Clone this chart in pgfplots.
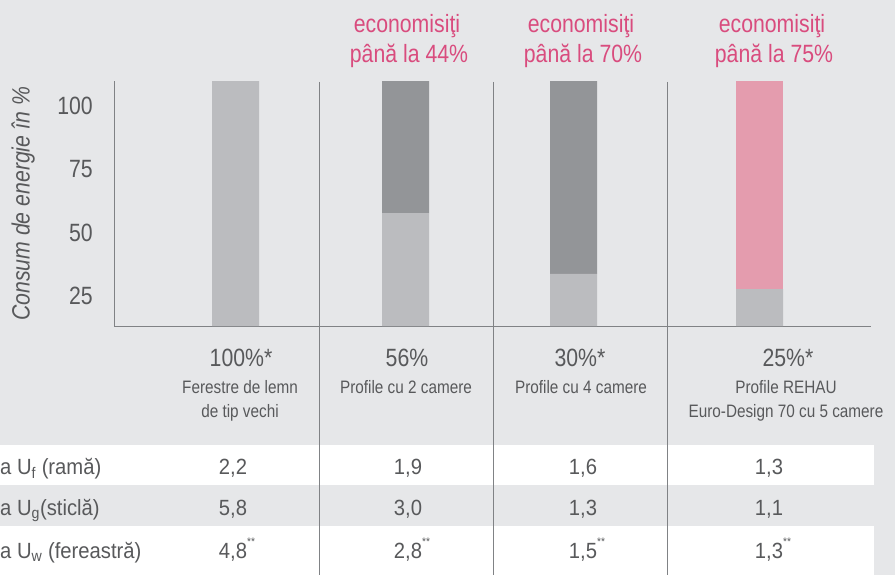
\documentclass[border=0pt]{standalone}
\usepackage{pgfplots}
\pgfplotsset{compat=1.18}
\usepackage{fontspec}
\setmainfont{Liberation Sans}[FakeStretch=0.85]
\newfontfamily\rowfont{Liberation Sans}[FakeStretch=0.92]
\definecolor{bg}{HTML}{E6E7E9}
\definecolor{lgray}{HTML}{BBBCBF}
\definecolor{dgray}{HTML}{939598}
\definecolor{pinkbar}{HTML}{E49CAE}
\definecolor{pinktxt}{HTML}{D94C7E}
\definecolor{txt}{HTML}{58595B}
\definecolor{axgray}{HTML}{808285}
\newcommand\fs[1]{\fontsize{#1}{#1}\selectfont}
\newcommand\st{\rlap{\raisebox{1.1ex}{\fs{11}**}}}
\begin{document}
\begin{tikzpicture}[x=1pt,y=1pt]
\path[use as bounding box] (0,0) rectangle (895,-575);
\fill[bg] (0,0) rectangle (895,-575);
\fill[white] (0,-445) rectangle (874,-485);
\fill[white] (0,-526) rectangle (874,-575);
\foreach \x in {319,493,667} \draw[axgray, line width=1pt] (\x,-82) -- (\x,-575);
\begin{axis}[
  at={(114pt,-326pt)}, anchor=south west,
  scale only axis, width=757pt, height=245pt,
  xmin=114, xmax=871, ymin=13, ymax=110,
  ybar stacked, bar width=47pt,
  axis x line*=bottom, axis y line*=left,
  axis line style={draw=axgray, line width=1pt, -},
  xtick=\empty, ytick={25,50,75,100},
  major tick length=0pt,
  /pgf/number format/assume math mode=true,
  yticklabel style={font=\fs{25}, text=txt, anchor=east, inner sep=0pt, xshift=-21pt},
]
\addplot[fill=lgray, draw=none] coordinates {(235.5,110) (405.5,57.7) (573.5,33.6) (759.5,27.6)};
\addplot[fill=dgray, draw=none] coordinates {(235.5,0) (405.5,52.3) (573.5,76.4) (759.5,0)};
\addplot[fill=pinkbar, draw=none] coordinates {(235.5,0) (405.5,0) (573.5,0) (759.5,82.4)};
\end{axis}
% y label
\node[rotate=90, font=\fs{25}\itshape, text=txt] at (23,-204) {Consum de energie în \%};
% pink labels
\begin{scope}[every node/.style={anchor=base, text=pinktxt, font=\fs{25}, inner sep=0pt}]
\node at (407,-33) {economisiţi};
\node at (409,-63) {până la 44\%};
\node at (581,-33) {economisiţi};
\node at (583,-63) {până la 70\%};
\node at (772,-33) {economisiţi};
\node at (774,-63) {până la 75\%};
\end{scope}
% column headers
\begin{scope}[every node/.style={anchor=base, text=txt, inner sep=0pt}]
\node[font=\fs{25}] at (241,-366) {100\%*};
\node[font=\fs{18}] at (240,-393) {Ferestre de lemn};
\node[font=\fs{18}] at (240,-417) {de tip vechi};
\node[font=\fs{25}] at (407,-366) {56\%};
\node[font=\fs{18}] at (406,-393) {Profile cu 2 camere};
\node[font=\fs{25}] at (580,-366) {30\%*};
\node[font=\fs{18}] at (581,-393) {Profile cu 4 camere};
\node[font=\fs{25}] at (788,-366) {25\%*};
\node[font=\fs{18}] at (786,-393) {Profile REHAU};
\node[font=\fs{18}] at (786,-417) {Euro-Design 70 cu 5 camere};
\end{scope}
% table rows
\begin{scope}[every node/.style={text=txt, inner sep=0pt, font=\rowfont\fs{22}}]
\node[anchor=base west] at (0,-474) {a U\textsubscript{f} (ramă)};
\node[anchor=base west] at (0,-515) {a U\textsubscript{g}(sticlă)};
\node[anchor=base west] at (0,-558) {a U\textsubscript{w} (fereastră)};
\node[anchor=base] at (233,-474) {2,2};
\node[anchor=base] at (233,-515) {5,8};
\node[anchor=base] at (233,-558) {4,8\st};
\node[anchor=base] at (408,-474) {1,9};
\node[anchor=base] at (408,-515) {3,0};
\node[anchor=base] at (408,-558) {2,8\st};
\node[anchor=base] at (583,-474) {1,6};
\node[anchor=base] at (583,-515) {1,3};
\node[anchor=base] at (583,-558) {1,5\st};
\node[anchor=base] at (769,-474) {1,3};
\node[anchor=base] at (769,-515) {1,1};
\node[anchor=base] at (769,-558) {1,3\st};
\end{scope}
\end{tikzpicture}
\end{document}
